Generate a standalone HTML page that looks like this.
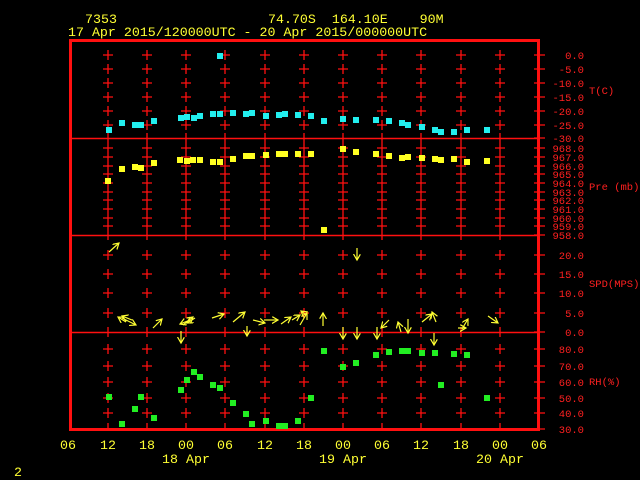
<!DOCTYPE html>
<html><head><meta charset="utf-8"><style>
html,body{margin:0;padding:0;background:#000;}
svg{display:block;}
text{font-family:"Liberation Mono","DejaVu Sans Mono",monospace;white-space:pre;}
</style></head><body>
<svg id="s" width="640" height="480" xmlns="http://www.w3.org/2000/svg">
<rect width="640" height="480" fill="#000"/>
<g fill="#ffff33" font-size="13.3">
<text x="85" y="23" xml:space="preserve">7353</text>
<text x="268" y="23" xml:space="preserve">74.70S  164.10E    90M</text>
<text x="68" y="36" xml:space="preserve">17 Apr 2015/120000UTC - 20 Apr 2015/000000UTC</text>
<g text-anchor="middle">
<text x="68" y="449">06</text><text x="108" y="449">12</text><text x="147" y="449">18</text>
<text x="186" y="449">00</text><text x="225" y="449">06</text><text x="265" y="449">12</text>
<text x="304" y="449">18</text><text x="343" y="449">00</text><text x="382" y="449">06</text>
<text x="421" y="449">12</text><text x="461" y="449">18</text><text x="500" y="449">00</text>
<text x="539" y="449">06</text>
<text x="186" y="463">18 Apr</text><text x="343" y="463">19 Apr</text><text x="500" y="463">20 Apr</text>
</g>
<text x="14" y="476">2</text>
</g>
<g fill="#ff2020" font-size="10.5" text-anchor="end">
<text x="584" y="59">0.0</text><text x="584" y="73">-5.0</text><text x="584" y="87">-10.0</text>
<text x="584" y="101">-15.0</text><text x="584" y="115">-20.0</text><text x="584" y="129">-25.0</text>
<text x="584" y="142">-30.0</text>
<text x="584" y="152">968.0</text><text x="584" y="161">967.0</text><text x="584" y="170">966.0</text>
<text x="584" y="178">965.0</text><text x="584" y="187">964.0</text><text x="584" y="196">963.0</text>
<text x="584" y="204">962.0</text><text x="584" y="213">961.0</text><text x="584" y="222">960.0</text>
<text x="584" y="230">959.0</text><text x="584" y="239">958.0</text>
<text x="584" y="259">20.0</text><text x="584" y="278">15.0</text><text x="584" y="297">10.0</text>
<text x="584" y="317">5.0</text><text x="584" y="336">0.0</text>
<text x="584" y="353">80.0</text><text x="584" y="370">70.0</text><text x="584" y="386">60.0</text>
<text x="584" y="402">50.0</text><text x="584" y="417">40.0</text><text x="584" y="433">30.0</text>
</g>
<g fill="#ff2020" font-size="10.5">
<text x="589" y="94">T(C)</text>
<text x="589" y="190" xml:space="preserve">Pre (mb)</text>
<text x="589" y="287">SPD(MPS)</text>
<text x="589" y="385">RH(%)</text>
</g>
<g id="grid" stroke="#ff1010" stroke-width="1.3" fill="none"></g>
<rect x="70.5" y="40.5" width="468" height="389" fill="none" stroke="#ff1010" stroke-width="3"/>
<g stroke="#ff1010" stroke-width="1.5">
<line x1="70" y1="138.5" x2="539" y2="138.5"/>
<line x1="70" y1="235.5" x2="539" y2="235.5"/>
<line x1="70" y1="332.5" x2="539" y2="332.5"/>
</g>
<g id="pts"></g>
<defs><marker id="ah" markerWidth="8" markerHeight="8" refX="6" refY="3.5" orient="auto" markerUnits="userSpaceOnUse"><path d="M0,0 L6,3.5 L0,7" fill="none" stroke="#ffff33" stroke-width="1.2"/></marker></defs>
<g id="wind" stroke="#ffff33" stroke-width="1.2" fill="none"></g>
</svg>
<script>
var NS="http://www.w3.org/2000/svg";
function el(p,t,a){var e=document.createElementNS(NS,t);for(var k in a)e.setAttribute(k,a[k]);p.appendChild(e);return e;}
var g=document.getElementById('grid');
var xs=[108,147,186,225,265,304,343,382,421,461,500];
var ys=[55,69,83,97,111,125,148,157,166,174,183,192,200,209,218,226,255,274,293,313,349,366,382,398,413];
var ry=[55,69,83,97,111,125,138,148,157,166,174,183,192,200,209,218,226,235,255,274,293,313,332,349,366,382,398,413,429];
var d="";
xs.forEach(function(x){ys.forEach(function(y){d+="M"+(x-5)+","+y+"h10M"+x+","+(y-5)+"v10";});
 d+="M"+x+",138v-5v10M"+x+",235v-5v10M"+x+",332v-5v10M"+x+",429v-6";});
ry.forEach(function(y){d+="M534,"+y+"h11";});
el(g,'path',{d:d});
var pts=document.getElementById('pts');
function sq(arr,c){arr.forEach(function(p){el(pts,'rect',{x:p[0]-3,y:p[1]-3,width:6,height:6,fill:c});});}
sq([[109,130],[122,123],[135,125],[141,125],[154,121],[181,118],[187,117],[194,118],[200,116],[213,114],[220,114],[220,56],[233,113],[246,114],[252,113],[266,116],[279,115],[285,114],[298,115],[311,116],[324,121],[343,119],[356,120],[376,120],[389,121],[402,123],[408,125],[422,127],[435,130],[441,132],[454,132],[467,130],[487,130]],'#22eeee');
sq([[108,181],[122,169],[135,167],[141,168],[154,163],[180,160],[187,161],[193,160],[200,160],[213,162],[220,162],[233,159],[246,156],[252,156],[266,155],[279,154],[285,154],[298,154],[311,154],[324,230],[343,149],[356,152],[376,154],[389,156],[402,158],[408,157],[422,158],[435,159],[441,160],[454,159],[467,162],[487,161]],'#ffff22');
sq([[109,397],[122,424],[135,409],[141,397],[154,418],[181,390],[187,380],[194,372],[200,377],[213,385],[220,388],[233,403],[246,414],[252,424],[266,421],[279,426],[285,426],[298,421],[311,398],[324,351],[343,367],[356,363],[376,355],[389,352],[402,351],[408,351],[422,353],[435,353],[441,385],[454,354],[467,355],[487,398]],'#22ee22');
var w=document.getElementById('wind');
var A=[[109,252,10,-9],[122,318,14,7],[126,322,-8,-5],[132,320,-10,-4],[153,328,9,-9],[181,331,0,12],[183,325,10,-8],[190,320,-10,4],[195,318,-8,5],[212,318,12,-4],[233,322,12,-10],[247,326,0,10],[253,320,12,3],[264,320,14,0],[281,324,10,-7],[292,320,8,-5],[300,325,7,-12],[306,315,-5,-4],[323,326,0,-13],[343,327,0,12],[357,248,0,12],[357,327,0,12],[377,327,0,12],[389,320,-8,8],[401,332,-3,-10],[408,319,0,14],[422,322,10,-8],[436,322,-4,-10],[434,333,0,12],[462,329,6,-10],[458,328,8,0],[488,316,10,7]];
A.forEach(function(a){el(w,'line',{x1:a[0],y1:a[1],x2:a[0]+a[2],y2:a[1]+a[3],'marker-end':'url(#ah)'});});
</script>
</body></html>
